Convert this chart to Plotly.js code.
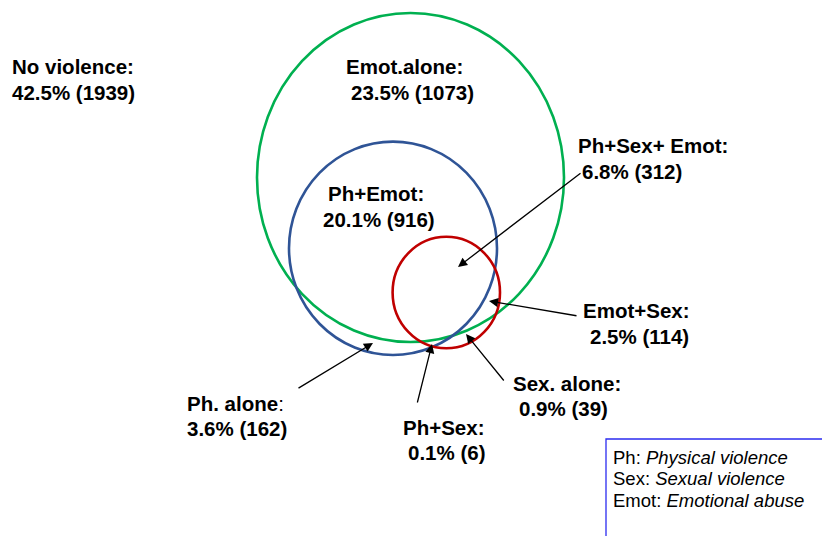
<!DOCTYPE html>
<html>
<head>
<meta charset="utf-8">
<script src="https://cdn.plot.ly/plotly-3.0.1.min.js"></script>
<style>html,body{margin:0;padding:0;background:#fff;}#chart{width:822px;height:536px;}</style>
</head>
<body>
<div id="chart"></div>
<script>
// ---- Data ----
const regionNames = ['No violence', 'Emot.alone', 'Ph+Sex+ Emot', 'Ph+Emot', 'Emot+Sex', 'Ph. alone', 'Ph+Sex', 'Sex. alone'];
const regionPercents = [42.5, 23.5, 6.8, 20.1, 2.5, 3.6, 0.1, 0.9];
const regionCounts = [1939, 1073, 312, 916, 114, 162, 6, 39];
const legendAbbrev = ['Ph', 'Sex', 'Emot'];
const legendMeaning = ['Physical violence', 'Sexual violence', 'Emotional abuse'];

// ---- Layout geometry (pixel-like coordinates) ----
const circleSets = ['Emot', 'Ph', 'Sex'];
const circleGeom = { // cx, cy, rx, ry
  Emot: [410.5, 177.5, 153.5, 164.5],
  Ph:   [393, 248.3, 104, 106.7],
  Sex:  [446.3, 292.5, 53.7, 55.8]
};
const circleColor = { Emot: '#00B050', Ph: '#2F5496', Sex: '#C00000' };
// label line1 (x,y), line2 (x,y)
const labelPos = [
  [10, 66, 10, 92],
  [344, 66, 349, 92],
  [576, 145, 580, 171],
  [326, 193, 321, 219],
  [581, 310, 588, 336],
  [185, 403, 185, 428],
  [401, 427, 406, 452],
  [511, 383, 517, 408]
];
// arrows: tail (ax, ay) -> tip (x, y); null = no arrow
const arrowGeom = [
  null,
  null,
  [582, 172, 458, 267],
  null,
  [578, 316, 489, 301],
  [297, 389, 373, 343],
  [417, 404, 432, 344],
  [505, 382, 466, 334]
];

const FONT = 'Liberation Sans, Arial, sans-serif';
const shapes = [];
circleSets.forEach(k => {
  const g = circleGeom[k];
  shapes.push({type: 'circle', xref: 'x', yref: 'y',
    x0: g[0] - g[2], x1: g[0] + g[2], y0: g[1] - g[3], y1: g[1] + g[3],
    line: {color: circleColor[k], width: 2.6}, fillcolor: 'rgba(0,0,0,0)'});
});
// legend box
shapes.push({type: 'rect', xref: 'x', yref: 'y', x0: 606, x1: 840, y0: 439, y1: 560,
  line: {color: '#2B2BF0', width: 1.3}, fillcolor: 'rgba(0,0,0,0)'});

const annotations = [];
regionNames.forEach((name, i) => {
  const p = labelPos[i];
  const l1 = name === 'Ph. alone' ? '<b>' + name + '</b>:' : '<b>' + name + ':</b>';
  const l2 = '<b>' + regionPercents[i].toFixed(1) + '% (' + regionCounts[i] + ')</b>';
  annotations.push({x: p[0], y: p[1], xref: 'x', yref: 'y', text: l1, showarrow: false,
    xanchor: 'left', yanchor: 'middle', font: {family: FONT, size: 20.5, color: '#000'}});
  annotations.push({x: p[2], y: p[3], xref: 'x', yref: 'y', text: l2, showarrow: false,
    xanchor: 'left', yanchor: 'middle', font: {family: FONT, size: 20.5, color: '#000'}});
  const a = arrowGeom[i];
  if (a) {
    annotations.push({x: a[2], y: a[3], ax: a[0], ay: a[1], xref: 'x', yref: 'y', axref: 'x', ayref: 'y',
      text: '', showarrow: true, arrowhead: 2, arrowsize: 1.4, arrowwidth: 1.3, arrowcolor: '#000',
      standoff: 0, startstandoff: 0});
  }
});
legendAbbrev.forEach((ab, i) => {
  annotations.push({x: 611, y: 457 + i * 21.5, xref: 'x', yref: 'y',
    text: ab + ': <i>' + legendMeaning[i] + '</i>', showarrow: false,
    xanchor: 'left', yanchor: 'middle', font: {family: FONT, size: 18.5, color: '#000'}});
});

const layout = {
  width: 822, height: 536,
  margin: {l: 0, r: 0, t: 0, b: 0},
  paper_bgcolor: '#fff', plot_bgcolor: '#fff',
  xaxis: {range: [0, 822], visible: false, fixedrange: true},
  yaxis: {range: [536, 0], visible: false, fixedrange: true},
  showlegend: false,
  shapes: shapes,
  annotations: annotations
};
Plotly.newPlot('chart', [{x: [], y: [], type: 'scatter', mode: 'markers', hoverinfo: 'skip'}], layout, {staticPlot: true, displayModeBar: false});
</script>
</body>
</html>
